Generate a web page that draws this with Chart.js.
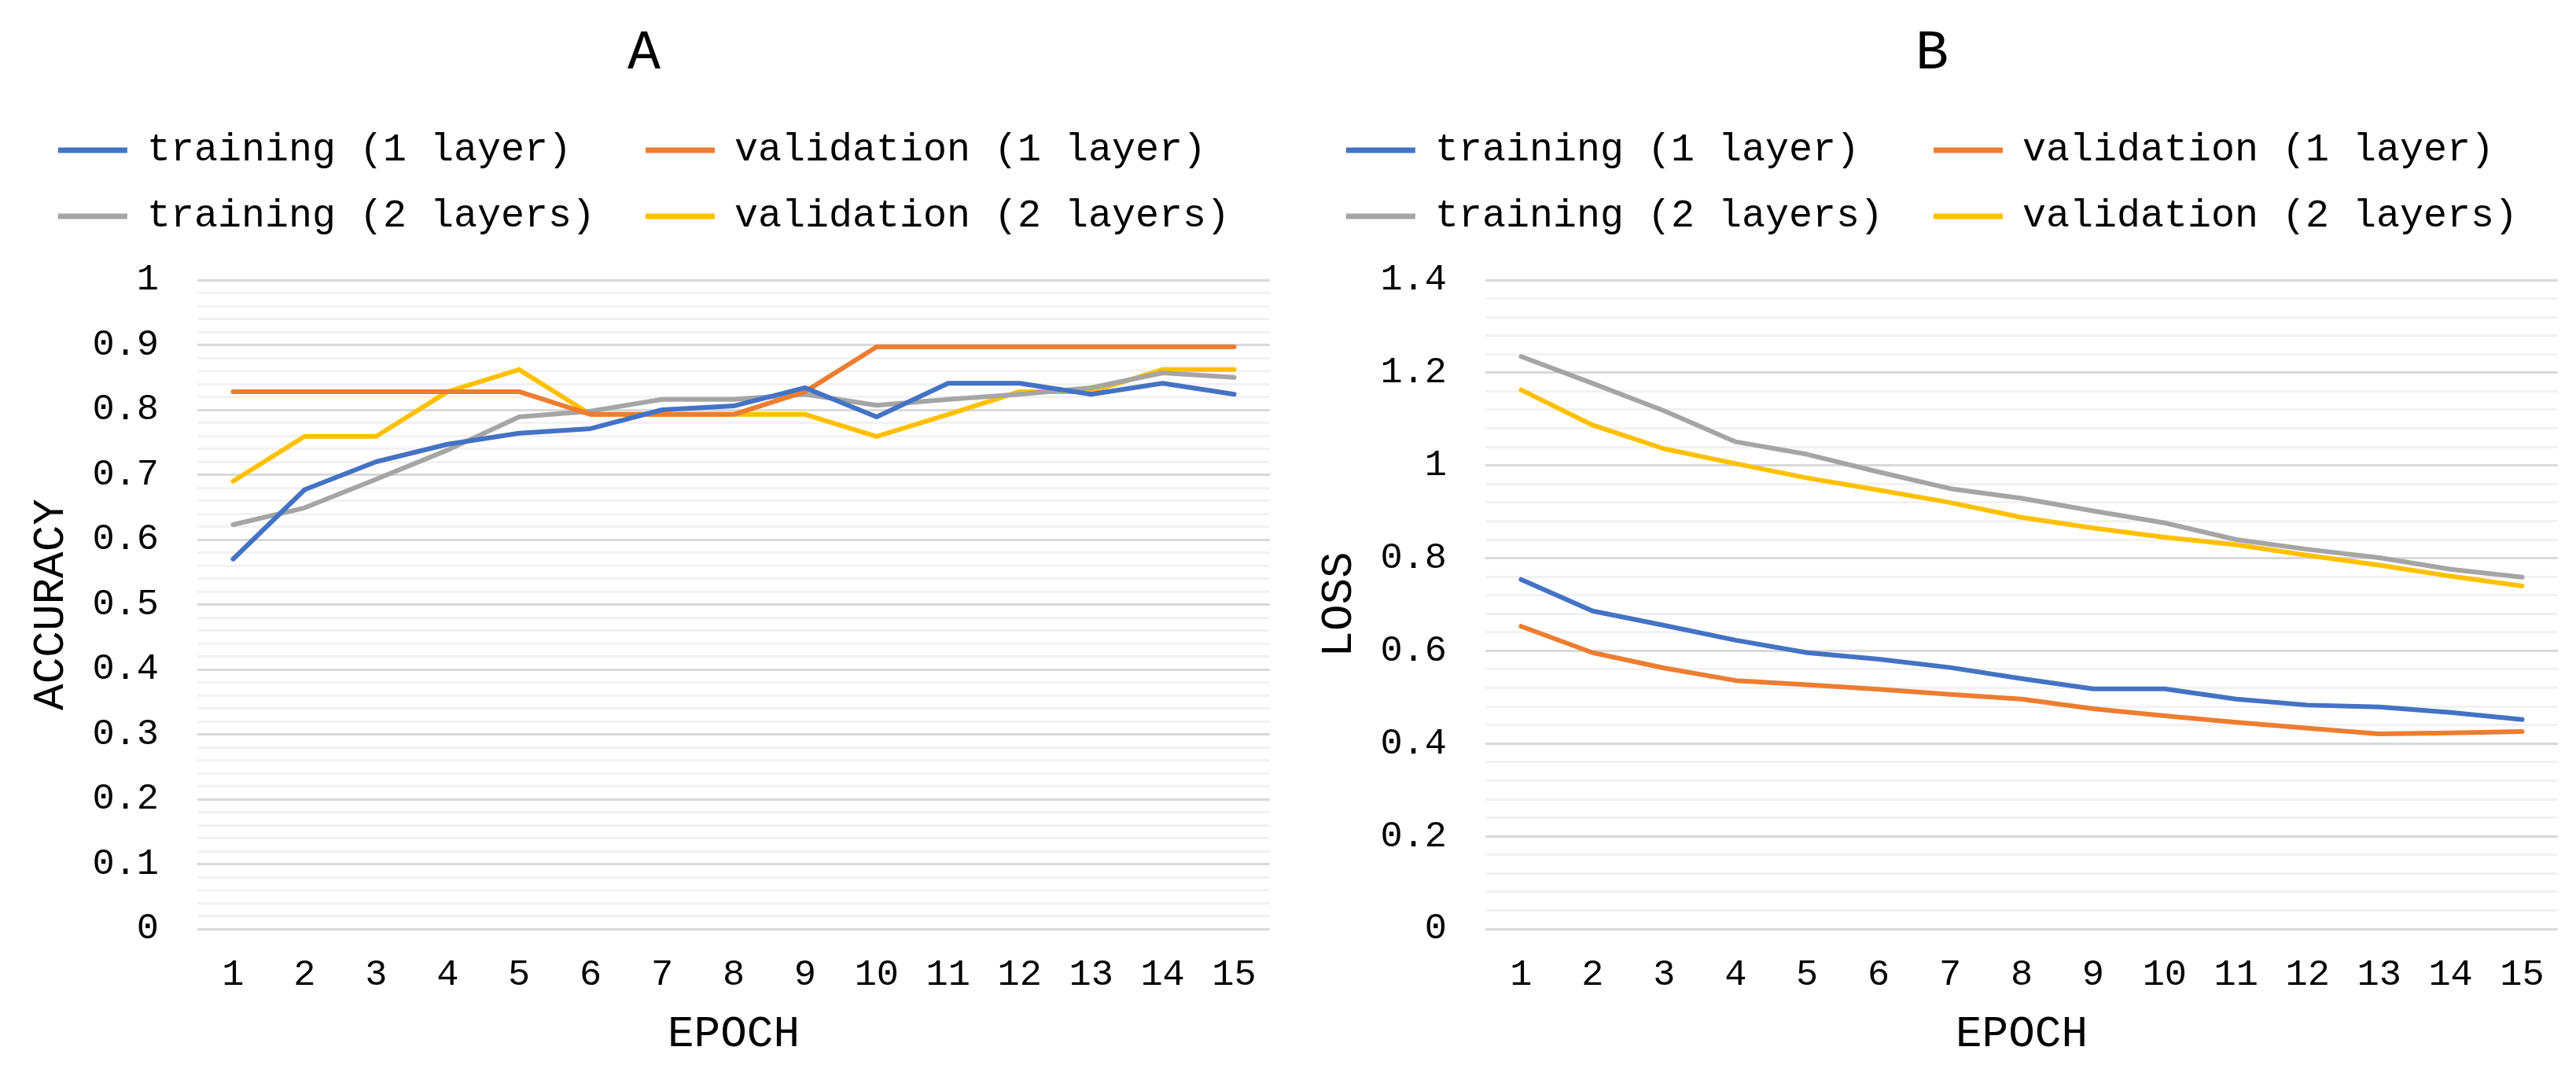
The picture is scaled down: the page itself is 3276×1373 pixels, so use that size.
<!DOCTYPE html>
<html>
<head>
<meta charset="utf-8">
<script src="https://cdn.jsdelivr.net/npm/chart.js@4/dist/chart.umd.min.js"></script>
<style>
  html, body { margin: 0; padding: 0; background: #fff; }
  .wrap { display: flex; width: 3276px; height: 1373px; }
  .panel { width: 1638px; height: 1373px; }
</style>
</head>
<body>
<div class="wrap">
  <div class="panel"><canvas id="chartA" width="1638" height="1373"></canvas></div>
  <div class="panel"><canvas id="chartB" width="1638" height="1373"></canvas></div>
</div>
<script>
// epochs on the x axis
const epochs = ['1','2','3','4','5','6','7','8','9','10','11','12','13','14','15'];
const seriesNames = ['training (1 layer)', 'validation (1 layer)', 'training (2 layers)', 'validation (2 layers)'];
const seriesColors = ['#4472C4', '#ED7D31', '#A5A5A5', '#FFC000'];

// panel A - accuracy
const accTrain1 = [0.570, 0.677, 0.720, 0.747, 0.764, 0.771, 0.800, 0.806, 0.834, 0.789, 0.841, 0.841, 0.824, 0.841, 0.824];
const accVal1   = [0.828, 0.828, 0.828, 0.828, 0.828, 0.793, 0.793, 0.793, 0.828, 0.897, 0.897, 0.897, 0.897, 0.897, 0.897];
const accTrain2 = [0.623, 0.649, 0.693, 0.738, 0.789, 0.798, 0.816, 0.816, 0.824, 0.807, 0.816, 0.824, 0.834, 0.857, 0.850];
const accVal2   = [0.690, 0.759, 0.759, 0.828, 0.862, 0.793, 0.793, 0.793, 0.793, 0.759, 0.793, 0.828, 0.828, 0.862, 0.862];

// panel B - loss
const lossTrain1 = [0.754, 0.686, 0.655, 0.623, 0.596, 0.582, 0.564, 0.540, 0.518, 0.518, 0.496, 0.483, 0.479, 0.467, 0.452];
const lossVal1   = [0.653, 0.596, 0.563, 0.536, 0.527, 0.517, 0.506, 0.496, 0.475, 0.460, 0.446, 0.433, 0.421, 0.423, 0.426];
const lossTrain2 = [1.235, 1.177, 1.118, 1.051, 1.024, 0.986, 0.950, 0.929, 0.902, 0.876, 0.840, 0.819, 0.801, 0.776, 0.759];
const lossVal2   = [1.163, 1.087, 1.036, 1.004, 0.973, 0.947, 0.920, 0.888, 0.865, 0.845, 0.829, 0.806, 0.785, 0.761, 0.740];

const FONT = "'Liberation Mono', 'DejaVu Sans Mono', monospace";
const TEXT = '#000';

function buildDatasets(series) {
    return series.map(function (values, i) {
        return {
            label: seriesNames[i],
            data: values,
            borderColor: seriesColors[i],
            backgroundColor: seriesColors[i],
            borderWidth: 6,
            borderCapStyle: 'round',
            borderJoinStyle: 'round',
            pointRadius: 0,
            tension: 0
        };
    });
}

function buildConfig(title, yTitle, series, yMax, minorStep, majorStep) {
    // ticks are in hundredths so the modulo stays exact
    let isMajor = function (v) { return Math.round(v * 100) % Math.round(majorStep * 100) === 0; };
    return {
        type: 'line',
        data: { labels: epochs, datasets: buildDatasets(series) },
        options: {
            responsive: false,
            animation: false,
            devicePixelRatio: 1,
            layout: { padding: 0 },
            plugins: {
                title: {
                    display: true,
                    text: title,
                    color: TEXT,
                    font: { family: FONT, size: 70, weight: 'normal' },
                    padding: { top: 26, bottom: 22 }
                },
                // empty spacer between legend and plot
                subtitle: {
                    display: true,
                    text: ' ',
                    weight: 500,
                    font: { size: 10 },
                    padding: { top: 0, bottom: 34 }
                },
                legend: {
                    position: 'top',
                    labels: {
                        color: TEXT,
                        font: { family: FONT, size: 50 },
                        boxWidth: 88,
                        boxHeight: 7,
                        padding: 34,
                        generateLabels: function (chart) {
                            let items = Chart.defaults.plugins.legend.labels.generateLabels(chart);
                            items.forEach(function (it, i) {
                                it.text = it.text.padEnd(i % 2 === 0 ? 20 : 21, ' ');
                                it.lineWidth = 0;
                            });
                            return items;
                        }
                    }
                },
                tooltip: { enabled: false }
            },
            scales: {
                x: {
                    offset: true,
                    grid: { display: false, drawTicks: false },
                    border: { display: false },
                    ticks: {
                        color: TEXT,
                        font: { family: FONT, size: 47 },
                        padding: 30,
                        autoSkip: false,
                        maxRotation: 0
                    },
                    title: {
                        display: true,
                        text: 'EPOCH',
                        color: TEXT,
                        font: { family: FONT, size: 56 },
                        padding: { top: 0, bottom: 24 }
                    },
                    afterFit: function (scale) {
                        scale.height = 192;
                        scale.paddingLeft = 0;
                        scale.paddingRight = 23;
                    }
                },
                y: {
                    min: 0,
                    max: yMax,
                    grid: {
                        drawTicks: false,
                        lineWidth: 3,
                        color: function (ctx) {
                            return ctx.tick && isMajor(ctx.tick.value) ? '#d9d9d9' : '#f2f2f2';
                        }
                    },
                    border: { display: false },
                    ticks: {
                        stepSize: minorStep,
                        autoSkip: false,
                        color: TEXT,
                        font: { family: FONT, size: 47 },
                        padding: 49,
                        callback: function (value) {
                            if (!isMajor(value)) return '';
                            return String(Math.round(value * 100) / 100);
                        }
                    },
                    title: {
                        display: true,
                        text: yTitle,
                        color: TEXT,
                        font: { family: FONT, size: 56 },
                        padding: { top: 32, bottom: 0 }
                    },
                    afterFit: function (scale) {
                        scale.width = 251;
                    }
                }
            }
        }
    };
}

new Chart(document.getElementById('chartA').getContext('2d'),
    buildConfig('A', 'ACCURACY', [accTrain1, accVal1, accTrain2, accVal2], 1, 0.02, 0.1));
new Chart(document.getElementById('chartB').getContext('2d'),
    buildConfig('B', 'LOSS', [lossTrain1, lossVal1, lossTrain2, lossVal2], 1.4, 0.04, 0.2));
</script>
</body>
</html>
